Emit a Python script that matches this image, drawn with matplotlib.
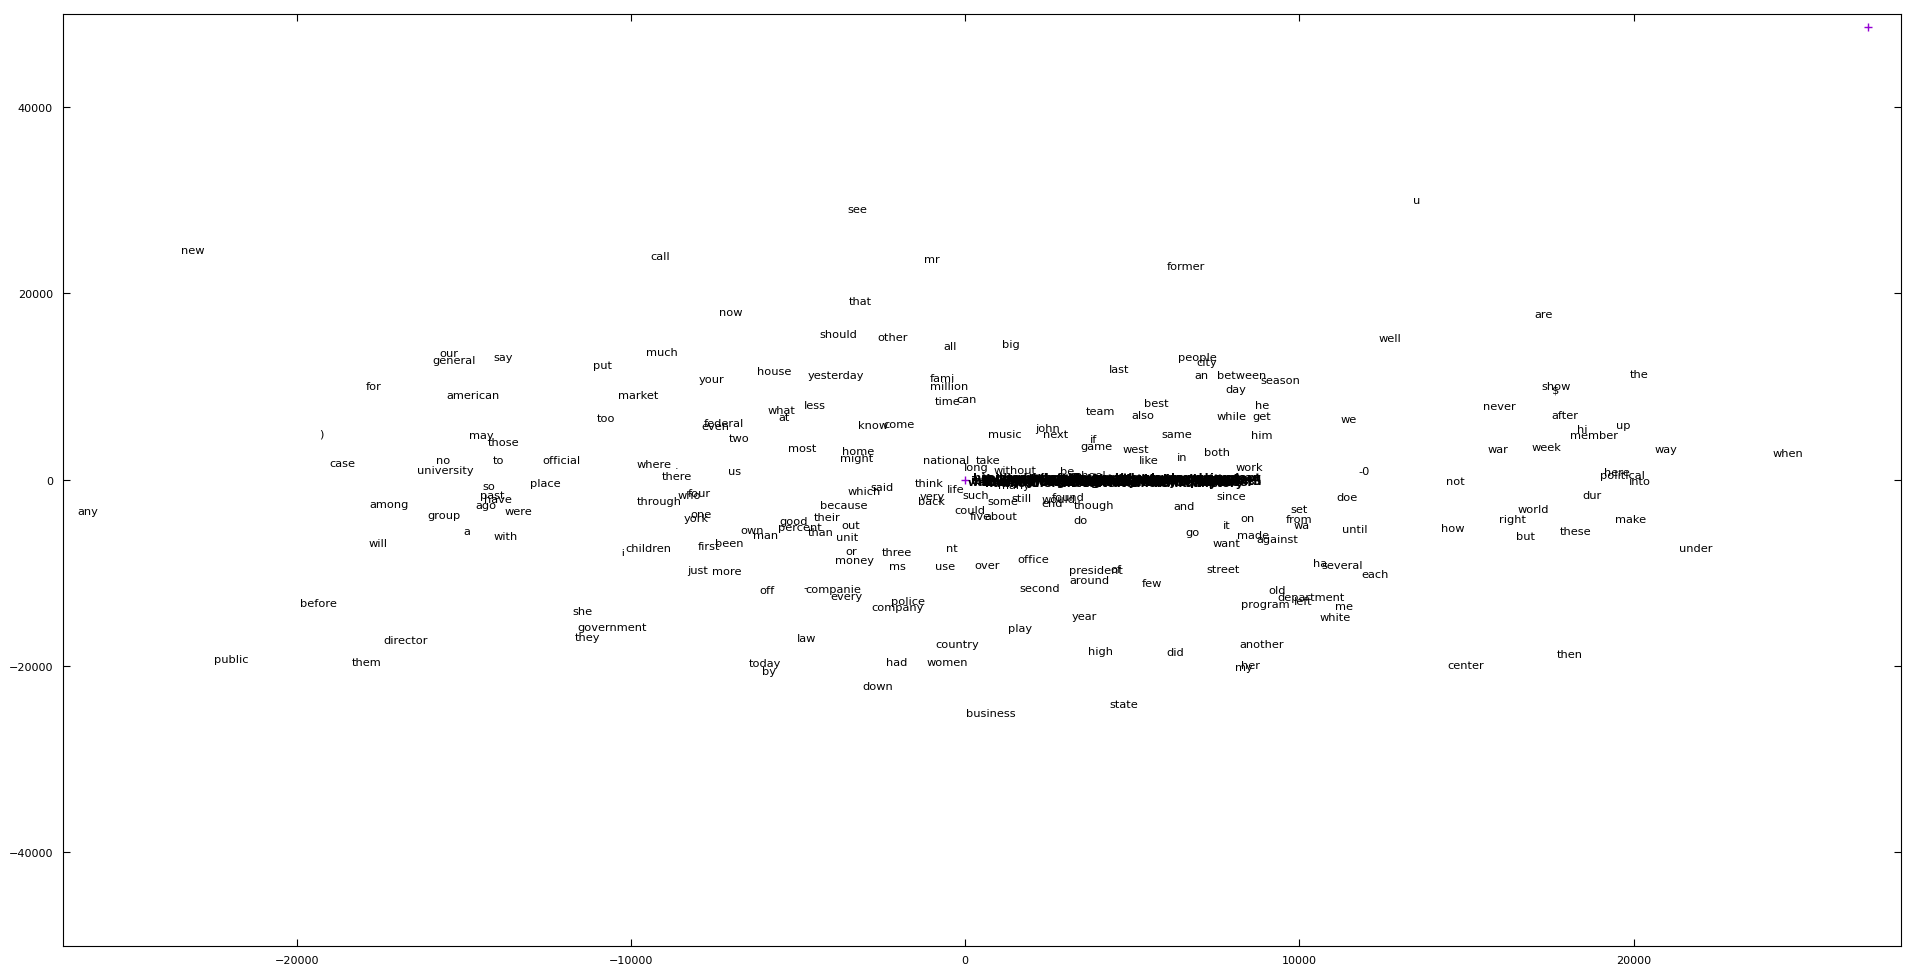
import matplotlib.pyplot as plt
from matplotlib.lines import Line2D

# word positions (2-d projection)
words = ['new', 'our', 'general', 'say', 'see', 'call', 'mr', 'that', 'now', 'should',
         'other', 'all', 'much', 'put', 'house', 'yesterday', 'your', 'fami', 'u', 'former',
         'well', 'big', 'people', 'city', 'last', 'an', 'between', 'season', 'are', 'the',
         'for', 'american', ')', 'may', 'those', 'case', 'no', 'university', 'to', 'place',
         'official', 'so', 'past', 'have', 'ago', 'were', 'among', 'group', 'a', 'with',
         'will', 'any', 'market', 'too', 'what', 'at', 'less', 'million', 'time', 'can',
         'federal', 'even', 'two', 'know', 'come', 'most', 'home', 'might', 'where', '.',
         'there', 'us', 'national', 'take', 'long', 'without', 'think', 'life', 'said', 'which',
         'very', 'back', 'such', 'four', 'who', 'through', 'because', 'could', 'five', 'about',
         'some', 'one', 'york', 'good', 'their', 'percent', 'than', 'out', 'unit', 'own',
         'man', 'been', 'first', 'children', '¡', 'or', 'money', 'three', 'nt', 'ms',
         'use', 'over', 'just', 'more', 'team', 'best', 'also', 'day', 'he', 'while',
         'get', 'we', 'music', 'john', 'next', 'if', 'game', 'same', 'him', 'west',
         'like', 'in', 'both', 'work', 'be', 'school', '-0', 'not', 'since', 'doe',
         'still', 'found', 'would', 'end', 'though', 'and', 'do', 'set', 'from', 'wa',
         'on', 'it', 'until', 'how', 'go', 'made', 'against', 'want', 'office', 'ha',
         'several', 'each', 'show', '$', 'never', 'after', 'up', 'hi', 'member', 'way',
         'when', 'war', 'week', 'here', 'political', 'into', 'dur', 'world', 'right', 'make',
         'but', 'these', 'under', 'before', 'director', 'public', 'them', 'off', 'companie', '-',
         'every', 'police', 'company', 'she', 'government', 'they', 'law', 'country', 'today', 'by',
         'had', 'women', 'down', 'business', 'president', 'of', 'around', 'second', 'few', 'street',
         'old', 'department', 'left', 'program', 'me', 'white', 'year', 'play', 'high', 'did',
         'another', 'her', 'my', 'state', 'center', 'then', 'many']

word_x = [-23100, -15460, -15300, -13810, -3230, -9120, -1000, -3140, -7000, -3790,
          -2180, -440, -9060, -10860, -5720, -3880, -7590, -690, 13500, 6610,
          12700, 1360, 6940, 7230, 4610, 7080, 8260, 9430, 17300, 20160,
          -17690, -14740, -19270, -14480, -13810, -18620, -15620, -15560, -13970, -12570,
          -12070, -14250, -14150, -13980, -14350, -13370, -17230, -15580, -14900, -13740,
          -17560, -26250, -9780, -10750, -5510, -5410, -4490, -480, -540, 30,
          -7230, -7470, -6750, -2760, -1970, -4880, -3210, -3260, -9310, -8640,
          -8620, -6890, -570, 680, 330, 1480, -1070, -290, -2480, -3010,
          -990, -1020, 330, -7950, -8250, -9140, -3640, 150, 460, 1080,
          1130, -7900, -8050, -5120, -4130, -4960, -4330, -3430, -3530, -6380,
          -5980, -7050, -7670, -9490, -10240, -3410, -3310, -2040, -400, -2020,
          -600, 650, -8000, -7120, 4040, 5720, 5320, 8110, 8890, 7960,
          8860, 11470, 1200, 2470, 2720, 3850, 3920, 6330, 8870, 5100,
          5490, 6490, 7520, 8500, 3050, 3670, 11950, 14670, 7970, 11410,
          1680, 3090, 2790, 2590, 3850, 6560, 3440, 9980, 10000, 10070,
          8440, 7830, 11670, 14590, 6790, 8610, 9330, 7830, 2050, 10630,
          11270, 12250, 17680, 17680, 15970, 17930, 19690, 18460, 18810, 20980,
          24630, 15940, 17380, 19510, 19680, 20200, 18750, 17000, 16370, 19910,
          16760, 18260, 21850, -19350, -16730, -21960, -17910, -5930, -3960, -4780,
          -3560, -1700, -2020, -11460, -10560, -11290, -4760, -240, -5980, -5870,
          -2050, -550, -2620, 760, 3920, 4520, 3720, 2220, 5590, 7710,
          9320, 10350, 10100, 8990, 11330, 11080, 3570, 1630, 4040, 6290,
          8860, 8540, 8340, 4750, 14990, 18080, 1470]

word_y = [24580, 13580, 12790, 13150, 29050, 23940, 23690, 19110, 17940, 15620,
          15260, 14330, 13690, 12250, 11650, 11180, 10750, 10900, 30050, 22970,
          15150, 14500, 13150, 12620, 11870, 11180, 11180, 10650, 17720, 11360,
          10040, 9110, 4900, 4750, 4000, 1750, 2070, 1000, 2070, -320,
          2110, -680, -1650, -2050, -2680, -3320, -2570, -3830, -5540, -6040,
          -6790, -3400, 9080, 6570, 7430, 6720, 8010, 10000, 8390, 8680,
          6110, 5760, 4430, 5820, 5930, 3360, 3110, 2360, 1640, 1530,
          400, 890, 2070, 2140, 1360, 1000, -350, -970, -780, -1250,
          -1750, -2250, -1680, -1390, -1610, -2330, -2760, -3220, -3890, -3930,
          -2330, -3650, -4070, -4470, -4040, -5040, -5650, -4900, -6140, -5440,
          -5970, -6790, -7150, -7360, -7690, -7690, -8580, -7750, -7380, -9250,
          -9250, -9190, -9650, -9830, 7320, 8220, 6890, 9760, 8040, 6790,
          6790, 6540, 4930, 5570, 4860, 4400, 3610, 4860, 4750, 3320,
          2070, 2470, 2970, 1320, 930, 460, 890, -180, -1790, -1900,
          -1960, -1860, -2040, -2500, -2760, -2860, -4290, -3180, -4180, -4900,
          -4070, -4820, -5330, -5180, -5610, -5970, -6330, -6750, -8540, -8900,
          -9190, -10150, 10040, 9680, 7860, 6890, 5900, 5390, 4750, 3320,
          2820, 3250, 3460, 830, 540, -180, -1680, -3140, -4260, -4260,
          -6040, -5540, -7320, -13220, -17230, -19260, -19540, -11870, -11690, -11580,
          -12510, -13050, -13690, -14120, -15830, -16940, -16970, -17690, -19650, -20550,
          -19590, -19590, -22160, -25050, -9720, -9620, -10800, -11610, -11070, -9620,
          -11870, -12650, -13050, -13400, -13580, -14760, -14650, -15970, -18410, -18510,
          -17660, -19910, -20080, -24090, -19910, -18730, -610]

# rare words that collapse onto a thin strip near the origin
band_words = ['is', 'was', 'his', 'has', 'as', 'its', 'only', 'had', 'those', 'whose',
              'them', 'into', 'over', 'than', 'many', 'much', 'most', 'made', 'year', 'years',
              'where', 'which', 'while', 'under', 'other', 'there', 'these', 'would', 'could', 'should',
              'about', 'after', 'again', 'still', 'since', 'every', 'going', 'being', 'first', 'great',
              'never', 'might', 'night', 'state', 'place', 'among', 'south', 'north', 'week', 'month',
              'today', 'early', 'later', 'often', 'given', 'taken', 'known', 'shown', 'along', 'above',
              'below', 'whole', 'third', 'fifth', 'tenth', 'young', 'small', 'large', 'major', 'minor',
              'human', 'local', 'total', 'final', 'legal', 'moral', 'royal', 'rural', 'urban', 'daily',
              'party', 'point', 'power', 'price', 'press', 'range', 'space', 'stock', 'story', 'study',
              'trade', 'water', 'woman', 'month', 'plant', '%5']
band_x = [350, 435, 520, 605, 690, 775, 860, 945, 1030, 1115,
          1200, 1285, 1370, 1455, 1540, 1625, 1710, 1795, 1880, 1965,
          2050, 2135, 2220, 2305, 2390, 2475, 2560, 2645, 2730, 2815,
          2900, 2985, 3070, 3155, 3240, 3325, 3410, 3495, 3580, 3665,
          3750, 3835, 3920, 4005, 4090, 4175, 4260, 4345, 4430, 4515,
          4600, 4685, 4770, 4855, 4940, 5025, 5110, 5195, 5280, 5365,
          5450, 5535, 5620, 5705, 5790, 5875, 5960, 6045, 6130, 6215,
          6300, 6385, 6470, 6555, 6640, 6725, 6810, 6895, 6980, 7065,
          7150, 7235, 7320, 7405, 7490, 7575, 7660, 7745, 7830, 7915,
          8000, 8085, 8170, 8255, 8340, 8600]
band_y = [0, -300, 250, -150, 300, -250, 150, -350, 200, 0,
          -300, 250, -150, 300, -250, 150, -350, 200, 0, -300,
          250, -150, 300, -250, 150, -350, 200, 0, -300, 250,
          -150, 300, -250, 150, -350, 200, 0, -300, 250, -150,
          300, -250, 150, -350, 200, 0, -300, 250, -150, 300,
          -250, 150, -350, 200, 0, -300, 250, -150, 300, -250,
          150, -350, 200, 0, -300, 250, -150, 300, -250, 150,
          -350, 200, 0, -300, 250, -150, 300, -250, 150, -350,
          200, 0, -300, 250, -150, 300, -250, 150, -350, 200,
          0, -300, 250, -150, 300, -100]

point_x = [0]
point_y = [0]

fig = plt.figure(figsize=(19.2, 9.78), dpi=100)
ax = fig.add_axes([0.0327, 0.0321, 0.9574, 0.9530])

for w, x, y in zip(words, word_x, word_y):
    ax.text(x, y, w, ha='center', va='center', fontsize=8.2, color='black')

for w, x, y in zip(band_words, band_x, band_y):
    ax.text(x, y, w, ha='center', va='center', fontsize=8.2, color='black',
            fontweight='bold')

ax.plot(point_x, point_y, '+', color='#9400d3', ms=6, mew=1)

ax.set_xlim(-27000, 28000)
ax.set_ylim(-50000, 50000)
ax.set_xticks([-20000, -10000, 0, 10000, 20000])
ax.set_yticks([-40000, -20000, 0, 20000, 40000])
ax.tick_params(direction='in', length=5, width=0.8, labelsize=8,
               top=True, right=True, pad=7)
for s in ax.spines.values():
    s.set_linewidth(0.8)

# key sample in the corner, as gnuplot draws it
h = Line2D([0], [0], marker='+', color='#9400d3', ls='none', ms=6, mew=1)
ax.legend([h], [' '], loc='upper right', bbox_to_anchor=(0.9934, 1.0),
          frameon=False, handlelength=1, handletextpad=0.2,
          borderaxespad=0.2, borderpad=0.3)

fig.savefig('out.png', dpi=100)
